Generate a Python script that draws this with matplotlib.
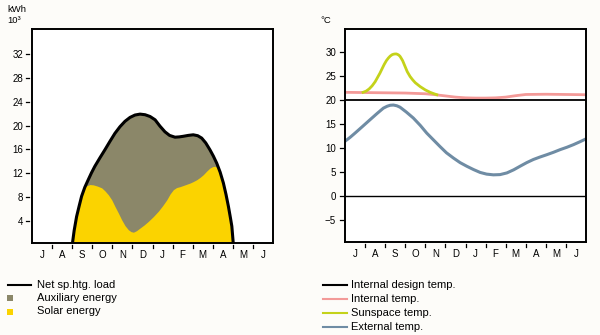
import matplotlib
matplotlib.use("Agg")
import matplotlib.pyplot as plt
import numpy as np
from matplotlib.lines import Line2D
from matplotlib.patches import Rectangle
from matplotlib.transforms import blended_transform_factory

plt.rcParams['font.family'] = ['Liberation Sans', 'DejaVu Sans']

months = ['J', 'A', 'S', 'O', 'N', 'D', 'J', 'F', 'M', 'A', 'M', 'J']

# Left panel: energy (kWh x 10^3), x in months from start of July
load_x = [2.0, 2.1, 2.22, 2.35, 2.47, 2.63, 2.80, 2.96, 3.13, 3.38, 3.63, 3.88, 4.13, 4.38,
          4.63, 4.88, 5.13, 5.38, 5.63, 5.88, 6.13, 6.37, 6.62, 6.85, 7.12, 7.33, 7.53, 7.78,
          8.03, 8.25, 8.45, 8.65, 8.86, 9.03, 9.2, 9.37, 9.53, 9.66, 9.78, 9.88, 9.95, 10.03]
load_y = [0.0, 2.5, 4.8, 6.6, 8.2, 9.7, 10.95, 12.1, 13.2, 14.6, 15.95, 17.35, 18.7, 19.8,
          20.7, 21.35, 21.75, 21.9, 21.8, 21.5, 20.95, 19.9, 18.95, 18.35, 18.05, 18.1, 18.2, 18.35,
          18.45, 18.3, 17.9, 17.1, 15.95, 14.9, 13.7, 12.2, 10.4, 8.5, 6.5, 4.6, 3.2, 0.0]
solar_x = [2.0, 2.1, 2.22, 2.35, 2.47, 2.63, 2.72, 2.88, 3.05, 3.25, 3.47, 3.63, 3.80, 3.97,
           4.13, 4.30, 4.46, 4.63, 4.80, 4.93, 5.05, 5.2, 5.38, 5.58, 5.79, 6.04, 6.29, 6.5,
           6.71, 6.88, 7.04, 7.2, 7.37, 7.62, 7.87, 8.03, 8.2, 8.37, 8.53, 8.7, 8.86, 9.0,
           9.11, 9.24, 9.36, 9.45, 9.53, 9.66, 9.78, 9.88, 9.95, 10.03]
solar_y = [0.0, 2.5, 4.8, 6.6, 8.2, 9.7, 9.95, 10.15, 10.1, 9.9, 9.6, 9.1, 8.45, 7.6,
           6.5, 5.4, 4.3, 3.3, 2.6, 2.3, 2.2, 2.45, 2.9, 3.4, 4.0, 4.8, 5.7, 6.6,
           7.6, 8.6, 9.3, 9.65, 9.8, 10.1, 10.4, 10.65, 10.95, 11.35, 11.8, 12.4, 12.9, 13.15,
           13.2, 12.95, 12.1, 11.3, 10.4, 8.5, 6.5, 4.6, 3.2, 0.0]

# Right panel: temperatures (deg C)
int_x = [0.0, 1.0, 2.0, 3.0, 4.0, 4.5, 5.0, 5.5, 6.0, 6.5, 7.0, 7.5, 8.0, 8.5, 9.0, 10.0, 11.0, 12.0]
int_y = [21.6, 21.55, 21.5, 21.45, 21.3, 21.1, 20.85, 20.6, 20.45, 20.4, 20.4, 20.45, 20.6, 20.9, 21.15, 21.2, 21.15, 21.1]
sun_x = [0.9, 1.05, 1.2, 1.35, 1.5, 1.62, 1.74, 1.85, 1.95, 2.06, 2.16, 2.25, 2.35, 2.42, 2.49, 2.56,
         2.62, 2.68, 2.74, 2.8, 2.87, 2.93, 2.99, 3.1, 3.24, 3.37, 3.5, 3.62, 3.74, 3.87, 4.0, 4.12,
         4.24, 4.4, 4.57]
sun_y = [21.6, 21.85, 22.3, 22.95, 23.8, 24.7, 25.6, 26.55, 27.4, 28.2, 28.75, 29.15, 29.45, 29.55,
         29.6, 29.6, 29.5, 29.35, 29.1, 28.7, 28.2, 27.6, 27.0, 25.9, 24.9, 24.2, 23.6, 23.2, 22.8,
         22.45, 22.1, 21.85, 21.6, 21.35, 21.1]
ext_x = [0.0, 0.25, 0.5, 0.85, 1.25, 1.6, 1.91, 2.1, 2.25, 2.41, 2.58, 2.74, 3.05, 3.4, 3.75,
         4.07, 4.4, 4.73, 5.05, 5.4, 5.73, 6.06, 6.4, 6.73, 7.05, 7.39, 7.72, 8.06, 8.4, 8.72,
         9.05, 9.38, 9.7, 10.05, 10.38, 10.71, 11.05, 11.38, 11.7, 12.0]
ext_y = [11.4, 12.2, 13.1, 14.4, 15.9, 17.2, 18.3, 18.7, 18.9, 18.95, 18.8, 18.5, 17.5, 16.25, 14.7,
         13.1, 11.7, 10.3, 9.0, 7.9, 6.95, 6.2, 5.5, 4.9, 4.55, 4.4, 4.45, 4.8, 5.45, 6.2,
         6.95, 7.6, 8.1, 8.6, 9.1, 9.65, 10.15, 10.7, 11.3, 11.9]
design_temp = 20.0
zero_temp = 0.0

left_yticks = [4, 8, 12, 16, 20, 24, 28, 32]
right_yticks = [-5, 0, 5, 10, 15, 20, 25, 30]

C_AUX = '#8b8769'
C_SOLAR = '#fbd300'
C_INT = '#f39a98'
C_SUN = '#c4d21a'
C_EXT = '#6f8ca4'
BG = '#fdfcf9'

W, H = 600, 335
fig = plt.figure(figsize=(6, 3.35), dpi=100, facecolor=BG)

def px_axes(x0, y0, x1, y1):
    ax = fig.add_axes([x0 / W, (H - y1) / H, (x1 - x0) / W, (y1 - y0) / H])
    ax._pxw = x1 - x0
    ax._pxh = y1 - y0
    return ax

def style_axis(ax, yticks, ylabels=None, gap=2.0, tlen=3.5):
    ax.set_xlim(0, 12)
    ax.set_xticks(np.arange(12) + 0.5)
    ax.set_xticklabels(months)
    ax.set_yticks(yticks)
    if ylabels is not None:
        ax.set_yticklabels(ylabels)
    ax.tick_params(axis='x', length=0, pad=5.2, labelsize=7)
    ax.tick_params(axis='y', length=0, pad=6.5, labelsize=7)
    for s in ax.spines.values():
        s.set_linewidth(1.4)
    ax.set_facecolor('white')
    # detached tick dashes, as in the printed original
    by = blended_transform_factory(ax.transAxes, ax.transData)
    gx, lx = gap / ax._pxw, tlen / ax._pxw
    for v in yticks:
        ax.add_line(Line2D([-gx - lx, -gx], [v, v], transform=by, color='black',
                           lw=0.9, clip_on=False))
    bx = blended_transform_factory(ax.transData, ax.transAxes)
    gy, ly = 1.5 / ax._pxh, 3.5 / ax._pxh
    for m in range(1, 12):
        ax.add_line(Line2D([m, m], [-gy - ly, -gy], transform=bx, color='black',
                           lw=0.9, clip_on=False))

# Left panel
ax1 = px_axes(32, 29, 273, 243)
ax1.fill_between(load_x, 0, load_y, color=C_AUX, lw=0)
ax1.fill_between(solar_x, 0, solar_y, color=C_SOLAR, lw=0)
ax1.plot(load_x, load_y, color='black', lw=2.2, solid_capstyle='round', solid_joinstyle='round')
ax1.set_ylim(0.4, 36.1)
style_axis(ax1, left_yticks, gap=3.0, tlen=3.0)
fig.text(7 / W, 1 - 11.5 / H, 'kWh', fontsize=6.8, va='baseline')
fig.text(7 / W, 1 - 23 / H, '10\u00b3', fontsize=6.8, va='baseline')

# Right panel
ax2 = px_axes(345, 29, 586, 242)
ax2.axhline(zero_temp, color='black', lw=1.0)
ax2.plot(int_x, int_y, color=C_INT, lw=2.0)
ax2.plot(sun_x, sun_y, color=C_SUN, lw=2.0, solid_joinstyle='round')
ax2.axhline(design_temp, color='black', lw=1.3)
ax2.plot(ext_x, ext_y, color=C_EXT, lw=2.2, solid_joinstyle='round')
ax2.set_ylim(-9.6, 34.8)
style_axis(ax2, right_yticks, ['\u22125' if v == -5 else str(v) for v in right_yticks],
           gap=1.5, tlen=4.0)
fig.text(320 / W, 1 - 23 / H, '\u00b0C', fontsize=6.8, va='baseline')

# Legends (drawn in figure pixel positions)
def fx(x):
    return x / W

def fy(y):
    return 1 - y / H

LEG_FS = 8.0
left_labels = ['Net sp.htg. load', 'Auxiliary energy', 'Solar energy']
left_rows = [285, 298, 311.5]
fig.add_artist(Line2D([fx(8), fx(31)], [fy(left_rows[0])] * 2, color='black', lw=1.5))
for y, c in zip(left_rows[1:], [C_AUX, C_SOLAR]):
    fig.add_artist(Rectangle((fx(7), fy(y + 3)), 6 / W, 6 / H, facecolor=c, edgecolor='none'))
for y, t in zip(left_rows, left_labels):
    fig.text(fx(37), fy(y), t, fontsize=LEG_FS, va='center')

right_labels = ['Internal design temp.', 'Internal temp.', 'Sunspace temp.', 'External temp.']
right_colors = ['black', C_INT, C_SUN, C_EXT]
right_rows = [285, 299, 313, 327]
for y, c, t in zip(right_rows, right_colors, right_labels):
    fig.add_artist(Line2D([fx(323), fx(347)], [fy(y)] * 2, color=c, lw=1.5))
    fig.text(fx(351), fy(y), t, fontsize=LEG_FS, va='center')

fig.savefig('out.png', dpi=100, facecolor=BG)
